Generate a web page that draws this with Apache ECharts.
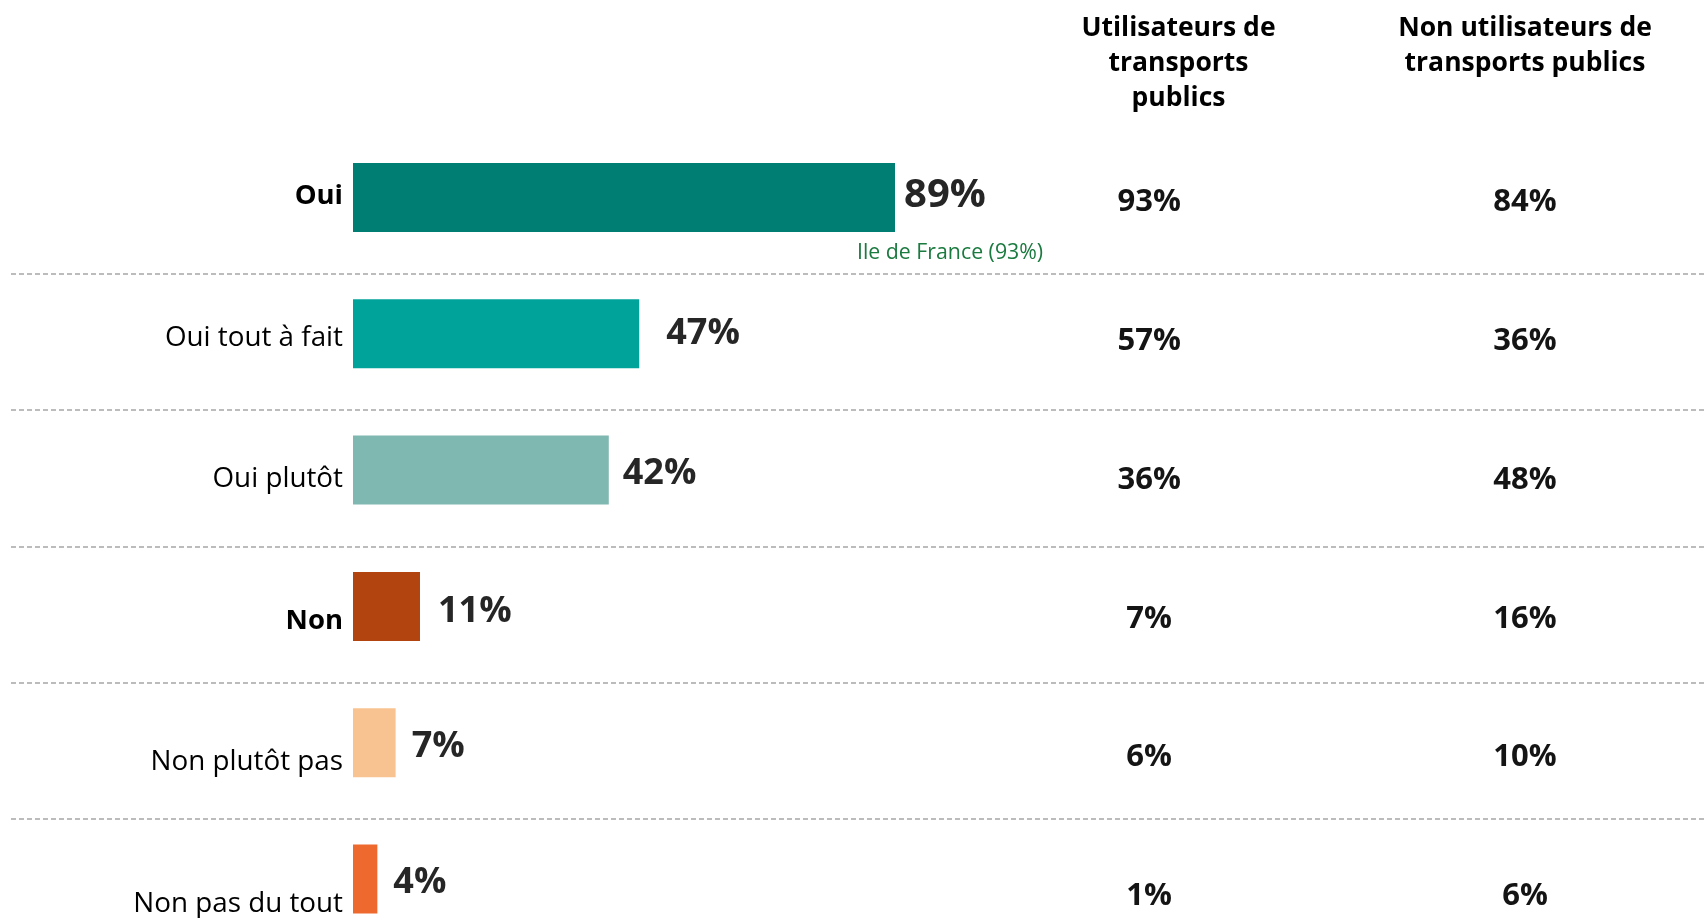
<!DOCTYPE html>
<html>
<head>
<meta charset="utf-8">
<script src="https://cdn.jsdelivr.net/npm/echarts@6/dist/echarts.min.js"></script>
<style>
  html, body { margin: 0; padding: 0; background: #ffffff; }
  #chart { width: 1708px; height: 918px; }
</style>
</head>
<body>
<div id="chart"></div>
<script>
// Survey answers and their shares (%)
const categories = ['Oui', 'Oui tout à fait', 'Oui plutôt', 'Non', 'Non plutôt pas', 'Non pas du tout'];
const totals = [89, 47, 42, 11, 7, 4];
// Breakdown by public transport usage (%)
const users = [93, 57, 36, 7, 6, 1];
const nonUsers = [84, 36, 48, 16, 10, 6];
const columnHeaders = ['Utilisateurs de\ntransports\npublics', 'Non utilisateurs de\ntransports publics'];
const regionNote = 'Ile de France (93%)';
const boldCategories = ['Oui', 'Non'];

// Styling
const barColors = ['#017e74', '#00a39a', '#7fb7b1', '#b1440f', '#f9c391', '#ed692e'];
const labelGaps = [9, 27, 14, 18, 16, 16];
const labelShiftY = [-2, 0, 4, 5, 4, 4];
const FONT = '"Open Sans", "Noto Sans", sans-serif';

const chart = echarts.init(document.getElementById('chart'), null, { renderer: 'canvas' });

const barData = totals.map((v, i) => ({
  value: v,
  itemStyle: { color: barColors[i] },
  label: { distance: labelGaps[i], offset: [0, labelShiftY[i]], fontSize: i === 0 ? 40 : 36 }
}));

const colSeries = [users, nonUsers].map((arr, c) => ({
  type: 'scatter',
  xAxisIndex: 3,
  yAxisIndex: 3,
  symbolSize: 1,
  itemStyle: { color: 'rgba(0,0,0,0)', opacity: 1 },
  silent: true,
  data: arr.map((v, i) => [c, i, v]),
  label: {
    show: true,
    position: 'inside',
    formatter: p => p.value[2] + '%',
    fontFamily: FONT,
    fontWeight: 'bold',
    fontSize: 31,
    color: '#141414'
  }
}));

// Category axes use point placement (boundaryGap false) so the first and
// last rows/columns sit on the grid edges and the grids stay inside the canvas.
chart.setOption({
  animation: false,
  backgroundColor: '#ffffff',
  grid: [
    { left: 353, top: 197.5, width: 609, height: 681.5 },    // bars
    { left: 353, top: 196.2, width: 10, height: 708 },       // answer labels
    { left: 11, top: 273.4, width: 1696, height: 545.8 },    // row separators
    { left: 1149.2, top: 202.6, width: 375.8, height: 693.5 } // usage columns
  ],
  xAxis: [
    { gridIndex: 0, type: 'value', min: 0, max: 100, show: false },
    { gridIndex: 1, type: 'value', min: 0, max: 1, show: false },
    { gridIndex: 2, type: 'value', min: 0, max: 1, show: false },
    { gridIndex: 3, type: 'category', boundaryGap: false, data: ['u', 'n'], show: false }
  ],
  yAxis: [
    { gridIndex: 0, type: 'category', boundaryGap: false, inverse: true, data: categories, show: false },
    {
      gridIndex: 1, type: 'category', boundaryGap: false, inverse: true, data: categories,
      axisLine: { show: false }, axisTick: { show: false }, splitLine: { show: false },
      axisLabel: {
        margin: 10,
        formatter: v => boldCategories.includes(v) ? '{b|' + v + '}' : '{n|' + v + '}',
        rich: {
          b: { fontFamily: FONT, fontSize: 27.5, fontWeight: 'bold', color: '#000000' },
          n: { fontFamily: FONT, fontSize: 27.8, fontWeight: 'normal', color: '#000000' }
        }
      }
    },
    {
      gridIndex: 2, type: 'value', inverse: true, min: 0, max: 4, interval: 1,
      axisLine: { show: false }, axisTick: { show: false }, axisLabel: { show: false },
      splitLine: {
        show: true,
        lineStyle: { color: '#a6a6a6', width: 1.5, type: [5, 3] }
      }
    },
    { gridIndex: 3, type: 'category', boundaryGap: false, inverse: true, data: categories, show: false }
  ],
  graphic: [
    {
      type: 'text', x: 1178.5, y: 10.5, silent: true,
      style: {
        text: columnHeaders[0], align: 'center', verticalAlign: 'top',
        fontFamily: FONT, fontWeight: 'bold', fontSize: 26.5, lineHeight: 35, fill: '#000000'
      }
    },
    {
      type: 'text', x: 1525, y: 10.5, silent: true,
      style: {
        text: columnHeaders[1], align: 'center', verticalAlign: 'top',
        fontFamily: FONT, fontWeight: 'bold', fontSize: 26.5, lineHeight: 35, fill: '#000000'
      }
    },
    {
      type: 'text', x: 857, y: 252.5, silent: true,
      style: {
        text: regionNote, align: 'left', verticalAlign: 'middle',
        fontFamily: FONT, fontSize: 21.3, fill: '#1b7a3f'
      }
    }
  ],
  series: [
    {
      type: 'bar',
      xAxisIndex: 0,
      yAxisIndex: 0,
      barWidth: 69,
      silent: true,
      data: barData,
      label: {
        show: true,
        position: 'right',
        formatter: '{c}%',
        fontFamily: FONT,
        fontWeight: 'bold',
        color: '#262626'
      }
    },
    ...colSeries
  ]
});
</script>
</body>
</html>
